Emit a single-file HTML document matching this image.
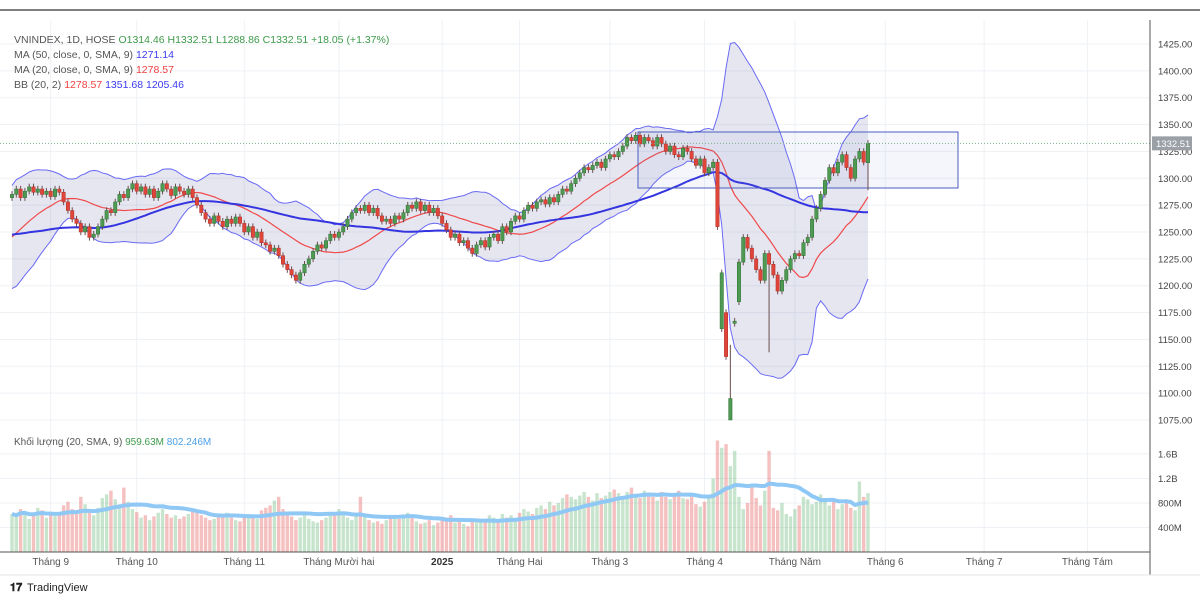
<!DOCTYPE html>
<html><head><meta charset="utf-8"><style>
html,body{margin:0;padding:0;background:#fff;}
svg{display:block;font-family:"Liberation Sans",sans-serif;}
</style></head><body>
<svg id="chart" width="1200" height="594" viewBox="0 0 1200 594">
<rect x="0" y="0" width="1200" height="594" fill="#fff"/>
<line x1="0" y1="10" x2="1200" y2="10" stroke="#555" stroke-width="1.5"/>
<g id="grid"></g>
<g id="vol"></g>
<g id="main"></g>
<g id="axes"></g>
<g font-size="10.5" fill="#555">
<text x="14" y="43">VNINDEX, 1D, HOSE <tspan fill="#3d9a4a">O1314.46 H1332.51 L1288.86 C1332.51 +18.05 (+1.37%)</tspan></text>
<text x="14" y="58">MA (50, close, 0, SMA, 9) <tspan fill="#3a3af0">1271.14</tspan></text>
<text x="14" y="73">MA (20, close, 0, SMA, 9) <tspan fill="#ef4040">1278.57</tspan></text>
<text x="14" y="88">BB (20, 2) <tspan fill="#ef4040">1278.57</tspan> <tspan fill="#3a3af0">1351.68</tspan> <tspan fill="#3a3af0">1205.46</tspan></text>
<text x="14" y="445" font-size="10">Khối lượng (20, SMA, 9) <tspan fill="#3d9a4a">959.63M</tspan> <tspan fill="#4aa0e8">802.246M</tspan></text>
</g>
<g><text x="10" y="591" font-size="11" fill="#222" font-weight="bold">𝟏𝟕</text><text x="27" y="591" font-size="11" fill="#222">TradingView</text></g>
</svg>
<script>
const history = [1262,1258,1265,1260,1255,1262,1268,1260,1255,1250,1258,1262,1265,1260,1255,1250,1256,1262,1258,1254,1250,1246,1240,1236,1232,1228,1230,1226,1224,1222,
1220,1215,1210,1212,1218,1225,1222,1230,1235,1240,1238,1245,1250,1255,1260,1262,1268,1275,1280,1282];
const closes = [
1285,1290,1282,1288,1292,1287,1290,1285,1288,1283,1290,1287,
1278,1270,1262,1258,1250,1255,1245,1248,
1255,1262,1270,1268,1278,1285,1282,1290,1295,
1288,1292,1285,1290,1282,1288,1295,1290,1284,1292,1288,1285,
1290,1282,1275,1268,1262,1258,1265,1260,1255,1262,1258,1264,
1258,1250,1255,1245,1250,1240,1238,1232,
1235,1228,1220,1215,1210,1205,
1212,1220,1225,1232,1238,1235,1242,1248,1245,1250,1255,1262,1268,1272,
1270,1275,1268,1272,1265,1260,1262,1258,1265,1262,
1268,1275,1272,1278,1270,1275,1268,1272,1265,1258,1252,
1245,1248,1240,1242,1235,1230,1238,1242,1236,1245,
1248,1242,1255,1250,1260,1265,1262,1270,1275,1272,1278,1280,1276,
1282,1278,1285,1290,1288,1295,1300,1305,1310,1308,1312,1315,1310,1318,
1322,1320,1325,1330,1338,1335,1340,1332,1338,1335,1330,1338,
1332,1325,1330,1322,1320,1328,1325,1318,1312,1318,1305,1310,1315,
1255,
1212,1134,1095,1167,1222,1245,1235,1225,1215,1205,1230,1220,1210,1195,1205,1215,1225,1230,1228,1240,1245,1262,1272,1285,1298,1310,1305,1315,1322,1310,1300,1318,1325,1315,1332.51];
const openOverrides = {164:1315, 165:1160, 166:1175, 167:1075, 168:1165, 169:1185, 199:1314.46};
const lowSpikes = {167:1075, 176:1138, 199:1288.86};
const highSpikes = {167:1145};
const volumes = [
620,580,700,650,540,600,720,680,560,610,590,640,760,820,700,650,900,780,640,600,
720,880,940,1000,860,780,1050,820,700,650,560,600,520,580,640,700,620,560,600,540,
580,620,700,660,600,560,520,540,600,580,640,560,520,500,560,620,600,540,680,720,
760,840,900,700,640,580,520,560,600,540,500,480,520,560,600,640,700,600,560,520,
640,900,600,520,480,500,460,520,600,560,540,580,640,560,500,460,480,520,440,480,
520,560,600,480,500,460,420,520,480,500,540,600,560,520,620,560,600,520,640,700,
660,620,720,760,700,820,760,800,880,940,900,860,920,980,900,840,960,880,920,980,
1020,960,900,980,1050,920,880,1000,960,900,840,980,900,860,920,1000,880,860,920,780,
740,820,880,1200,1820,1700,1760,1400,1650,900,700,800,1100,880,760,1000,1650,720,680,800,
620,580,700,760,900,860,780,820,940,880,760,820,700,780,840,720,680,1150,900,960];
const priceTicks = [1425,1400,1375,1350,1325,1300,1275,1250,1225,1200,1175,1150,1125,1100,1075];
const volTicks = [400,800,1200,1600];
const volTickLabels = ["400M","800M","1.2B","1.6B"];
const months = ["Tháng 9","Tháng 10","Tháng 11","Tháng Mười hai","2025","Tháng Hai","Tháng 3","Tháng 4","Tháng Năm","Tháng 6","Tháng 7","Tháng Tám"];
const monthIdx = [9,29,54,76,100,118,139,161,182,203,226,250];

const NS="http://www.w3.org/2000/svg";
const X0=12, DX=(868-12)/(closes.length-1);
const xOf=i=>X0+i*DX;
const yP=p=>44+(1425-p)*(376/350);
const yV=v=>552-v*0.0613;
function mk(tag,attrs,parent){const e=document.createElementNS(NS,tag);for(const k in attrs)e.setAttribute(k,attrs[k]);parent.appendChild(e);return e;}
const grid=document.getElementById('grid'),main=document.getElementById('main'),vol=document.getElementById('vol'),axes=document.getElementById('axes');

priceTicks.forEach(p=>{const l=mk('line',{x1:0,x2:1150,y1:yP(p),y2:yP(p),stroke:'#eef1f5'},grid);

});
volTicks.forEach(v=>{const l=mk('line',{x1:0,x2:1150,y1:yV(v),y2:yV(v),stroke:'#eef1f5'},grid);

});
monthIdx.forEach((m,k)=>{const x=xOf(m);const l=mk('line',{x1:x,x2:x,y1:20,y2:552,stroke:'#eef1f5'},grid);


const t=mk('text',{x:x,y:565,'text-anchor':'middle','font-size':'10',fill:k==4?'#333':'#555','font-weight':k==4?'bold':'normal'},axes);t.textContent=months[k];

});

const all=history.concat(closes),H=history.length;
function sma(n,i){let s=0;for(let k=0;k<n;k++)s+=all[H+i-k];return s/n;}
function sd(n,i,m){let s=0;for(let k=0;k<n;k++){const d=all[H+i-k]-m;s+=d*d;}return Math.sqrt(s/n);}
const ma20=[],ma50=[],up=[],lo=[];
closes.forEach((c,i)=>{const m=sma(20,i);ma20.push(m);ma50.push(sma(50,i));const s=sd(20,i,m);up.push(m+2*s);lo.push(m-2*s);});
let band='M'+up.map((v,i)=>xOf(i)+','+yP(v)).join(' L')+' L'+lo.map((v,i)=>xOf(i)+','+yP(v)).reverse().join(' L')+'Z';
const bf=mk('path',{d:band,fill:'rgba(60,60,150,0.13)',stroke:'none'},main);


const line=(arr,col,w,name)=>{const p=mk('path',{d:'M'+arr.map((v,i)=>xOf(i)+','+yP(v)).join(' L'),fill:'none',stroke:col,'stroke-width':w},main);

};
line(up,'#6a6af5',1,'bb-upper');line(lo,'#6a6af5',1,'bb-lower');
line(ma20,'#ef4a4a',1.2,'ma20-line');line(ma50,'#3434e0',2,'ma50-line');

const r=mk('rect',{x:638,y:132,width:320,height:56,fill:'rgba(120,140,200,0.08)',stroke:'#4a5cc0','stroke-width':1},main);



closes.forEach((c,i)=>{const o=openOverrides[i]!==undefined?openOverrides[i]:(i?closes[i-1]:history[H-1]);const g=c>=o;const x=xOf(i);
const hi=highSpikes[i]!==undefined?highSpikes[i]:Math.max(o,c)+3, lw=lowSpikes[i]!==undefined?lowSpikes[i]:Math.min(o,c)-3;
const col=g?'#4e9a52':'#e0453a', bd=g?'#2f6e33':'#b03028';
const w=mk('line',{x1:x,x2:x,y1:yP(hi),y2:yP(lw),stroke:'#6b4e4e','stroke-width':1},main);


const top=yP(Math.max(o,c)),h=Math.max(1.5,Math.abs(yP(o)-yP(c)));
const b=mk('rect',{x:x-1.7,y:top,width:3.4,height:h,fill:col,stroke:bd,'stroke-width':0.5},main);


const vb=mk('rect',{x:x-1.7,y:yV(volumes[i]),width:3.4,height:552-yV(volumes[i]),fill:g?'rgba(80,170,100,0.32)':'rgba(230,90,90,0.38)'},vol);

});
const vma=volumes.map((v,i)=>{let s=0,n=Math.min(20,i+1);for(let k=0;k<n;k++)s+=volumes[i-k];return s/n;});
const vl=mk('path',{d:'M'+vma.map((v,i)=>xOf(i)+','+yV(v)).join(' L'),fill:'none',stroke:'#90c8f5','stroke-width':4,'stroke-linejoin':'round'},vol);



const lp=yP(closes[closes.length-1]);
const dl=mk('line',{x1:0,x2:1150,y1:lp,y2:lp,stroke:'#7ab08a','stroke-dasharray':'1,2'},main);



const ax=mk('line',{x1:1150,x2:1150,y1:20,y2:575,stroke:'#555'},axes);


const bx=mk('line',{x1:0,x2:1150,y1:552,y2:552,stroke:'#555'},axes);


const bb=mk('line',{x1:0,x2:1200,y1:575,y2:575,stroke:'#e4e6ea'},axes);


priceTicks.forEach(p=>{const t=mk('text',{x:1158,y:yP(p)+3.5,'font-size':'9.5',fill:'#444'},axes);t.textContent=p.toFixed(2);

});
volTicks.forEach((v,k)=>{const t=mk('text',{x:1158,y:yV(v)+3.5,'font-size':'9.5',fill:'#444'},axes);t.textContent=volTickLabels[k];

});
const pb=mk('rect',{x:1152,y:lp-7,width:40,height:14,fill:'#9aa0a6'},axes);


const pt=mk('text',{x:1156,y:lp+3.5,'font-size':'9.5',fill:'#fff'},axes);pt.textContent=closes[closes.length-1].toFixed(2);


</script>
</body></html>
